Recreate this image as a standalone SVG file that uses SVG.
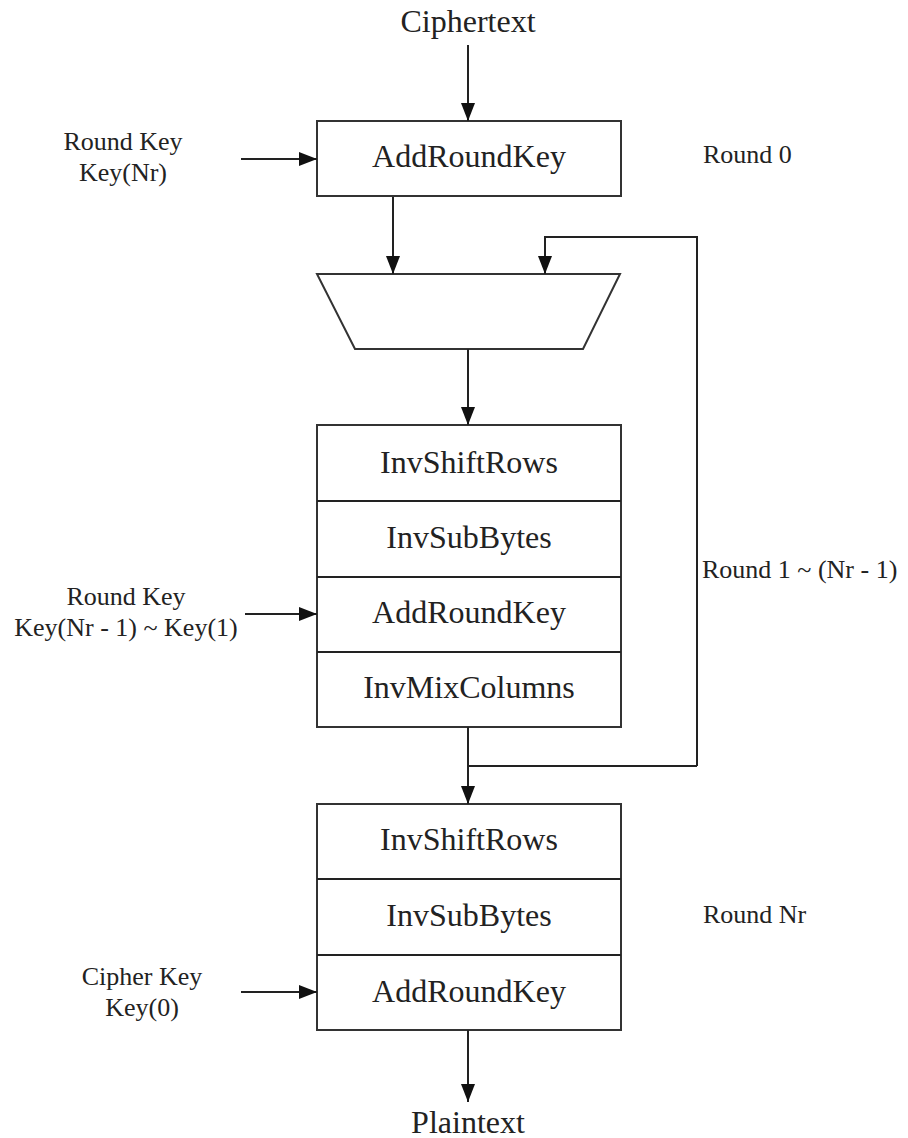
<svg xmlns="http://www.w3.org/2000/svg" width="908" height="1138" viewBox="0 0 908 1138">
  <style>
    .box { fill: #fff; stroke: #333; stroke-width: 2; }
    .sep { stroke: #222; stroke-width: 2; }
    .wire { fill: none; stroke: #222; stroke-width: 2; }
    .main { font-family: "Liberation Serif", "Times New Roman", serif; font-size: 32px; fill: #222; text-anchor: middle; }
    .side { font-family: "Liberation Serif", "Times New Roman", serif; font-size: 26px; fill: #222; }
    .mid { text-anchor: middle; }
  </style>
  <defs>
    <marker id="arrow" markerUnits="userSpaceOnUse" markerWidth="18" markerHeight="14" refX="18" refY="7" orient="auto">
      <path d="M0,0 L18,7 L0,14 z" fill="#111"/>
    </marker>
  </defs>

  <rect width="908" height="1138" fill="#fff"/>

  <!-- terminals -->
  <g id="ciphertext"><text class="main" x="468" y="32">Ciphertext</text></g>
  <g id="plaintext"><text class="main" x="468" y="1133">Plaintext</text></g>

  <!-- round 0 -->
  <g id="round0">
    <rect class="box" x="317" y="121" width="304" height="75"/>
    <text class="main" x="469" y="167">AddRoundKey</text>
  </g>

  <!-- multiplexer -->
  <g id="mux">
    <polygon class="box" points="317,274 620,274 583,349 355,349"/>
  </g>

  <!-- rounds 1 .. Nr-1 -->
  <g id="middle-rounds">
    <rect class="box" x="317" y="425" width="304" height="302"/>
    <line class="sep" x1="317" y1="501" x2="621" y2="501"/>
    <line class="sep" x1="317" y1="577" x2="621" y2="577"/>
    <line class="sep" x1="317" y1="652" x2="621" y2="652"/>
    <text class="main" x="469" y="473">InvShiftRows</text>
    <text class="main" x="469" y="548">InvSubBytes</text>
    <text class="main" x="469" y="623">AddRoundKey</text>
    <text class="main" x="469" y="698">InvMixColumns</text>
  </g>

  <!-- final round -->
  <g id="final-round">
    <rect class="box" x="317" y="804" width="304" height="226"/>
    <line class="sep" x1="317" y1="879" x2="621" y2="879"/>
    <line class="sep" x1="317" y1="955" x2="621" y2="955"/>
    <text class="main" x="469" y="850">InvShiftRows</text>
    <text class="main" x="469" y="926">InvSubBytes</text>
    <text class="main" x="469" y="1002">AddRoundKey</text>
  </g>

  <!-- key inputs -->
  <g id="key-nr">
    <text class="side mid" x="123" y="150">Round Key</text>
    <text class="side mid" x="123" y="181">Key(Nr)</text>
  </g>
  <g id="key-mid">
    <text class="side mid" x="126" y="605">Round Key</text>
    <text class="side mid" x="126" y="636">Key(Nr - 1) ~ Key(1)</text>
  </g>
  <g id="key-0">
    <text class="side mid" x="142" y="985">Cipher Key</text>
    <text class="side mid" x="142" y="1016">Key(0)</text>
  </g>

  <!-- round labels -->
  <g id="label-round0"><text class="side" x="703" y="163">Round 0</text></g>
  <g id="label-round-mid"><text class="side" x="702" y="578">Round 1 ~ (Nr - 1)</text></g>
  <g id="label-round-nr"><text class="side" x="703" y="923">Round Nr</text></g>

  <!-- connectors -->
  <g id="connectors">
    <line class="wire" x1="468" y1="45" x2="468" y2="121" marker-end="url(#arrow)"/>
    <line class="wire" x1="241" y1="159" x2="317" y2="159" marker-end="url(#arrow)"/>
    <line class="wire" x1="393" y1="197" x2="393" y2="274" marker-end="url(#arrow)"/>
    <path class="wire" d="M697,766 L697,237 L545,237 L545,274" marker-end="url(#arrow)"/>
    <line class="wire" x1="468" y1="349" x2="468" y2="425" marker-end="url(#arrow)"/>
    <line class="wire" x1="245" y1="614" x2="317" y2="614" marker-end="url(#arrow)"/>
    <line class="wire" x1="468" y1="727" x2="468" y2="804" marker-end="url(#arrow)"/>
    <line class="wire" x1="468" y1="766" x2="697" y2="766"/>
    <line class="wire" x1="241" y1="992" x2="317" y2="992" marker-end="url(#arrow)"/>
    <line class="wire" x1="468" y1="1030" x2="468" y2="1102" marker-end="url(#arrow)"/>
  </g>
</svg>
